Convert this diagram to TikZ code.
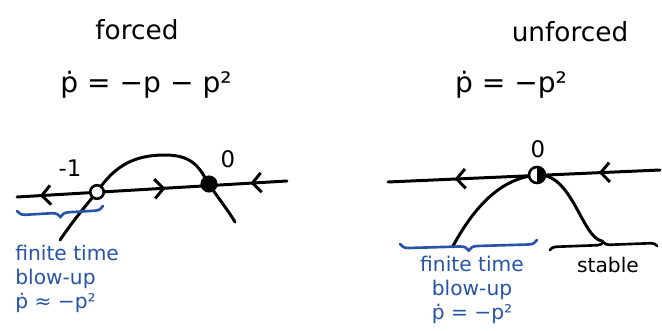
\documentclass[tikz,border=0pt]{standalone}
\usepackage{fontspec}
\setmainfont{DejaVu Sans}
\usepackage{tikz}
\usetikzlibrary{arrows.meta, positioning, decorations.markings, decorations.pathreplacing}
\definecolor{handblue}{RGB}{40,84,168}
\tikzstyle{title2} = [font=\fontsize{15}{18}\selectfont, inner sep=0pt]
\tikzstyle{eqn2} = [font=\fontsize{16}{19}\selectfont, inner sep=0pt]
\tikzstyle{note2} = [font=\fontsize{11.5}{13.5}\selectfont, inner sep=0pt]
\tikzstyle{label2} = [font=\fontsize{13}{15}\selectfont, inner sep=0pt]
\tikzstyle{line2} = [line width=1.7pt, line cap=round]
\tikzstyle{opendot} = [circle, draw, line width=1.5pt, fill=white, minimum size=0.27cm, inner sep=0pt]
\tikzstyle{fulldot} = [circle, draw, line width=1.2pt, fill=black, minimum size=0.3cm, inner sep=0pt]
\tikzstyle{halfdot} = [circle, draw, line width=1.5pt, fill=white, minimum size=0.32cm, inner sep=0pt,
  path picture={\fill[black] (path picture bounding box.north) rectangle (path picture bounding box.south east);}]
\tikzstyle{brace2} = [decorate, line width=1.5pt, line cap=round]

\begin{document}
\begin{tikzpicture}[x=0.02cm, y=-0.02cm, >={Straight Barb[length=5pt,width=11pt]}]
            \useasboundingbox (0,0) rectangle (662,331);

            % Left: forced
            \node (ftitle) [title2] at (137,30) {forced};
            \node (feq) [eqn2] at (146,85) {ṗ = −p − p²};

            \coordinate (lleft) at (17,197);
            \coordinate (lright) at (287,181);
            \coordinate (neg) at (97,192);
            \coordinate (zero) at (209,184);
            \coordinate (lstart) at (60,240);
            \coordinate (lend) at (235,222);

            \draw [line2, postaction={decorate}, decoration={markings,
                mark=at position 0.13 with {\arrow{<}},
                mark=at position 0.55 with {\arrow{>}},
                mark=at position 0.91 with {\arrow{<}}}] (lleft) -- (lright);
            \draw [line2] (lstart) .. controls (75,218) and (88,203) .. (neg)
                .. controls (115,165) and (135,155) .. (165,155)
                .. controls (195,155) and (200,170) .. (zero)
                .. controls (218,198) and (228,210) .. (lend);

            \node (negdot) [opendot] at (neg) {};
            \node (zerodot) [fulldot] at (zero) {};
            \node (neglab) [label2] at (70,168) {-1};
            \node (zerolab) [label2] at (228,159) {0};

            \draw [brace2, handblue, decoration={brace, mirror, amplitude=0.17cm}] (17,211) -- (103,206);
            \node (lnote) [note2, text=handblue, align=left, anchor=north west] at (15,245) {finite time\\blow-up\\ṗ ≈ −p²};

            % Right: unforced
            \node (utitle) [title2] at (570,32) {unforced};
            \node (ueq) [eqn2] at (511,85) {ṗ = −p²};

            \coordinate (rleft) at (388,182);
            \coordinate (rright) at (660,170);
            \coordinate (rzero) at (537,175);
            \coordinate (rstart) at (453,246);
            \coordinate (rend) at (602,241);

            \draw [line2, postaction={decorate}, decoration={markings,
                mark=at position 0.29 with {\arrow{<}},
                mark=at position 0.82 with {\arrow{<}}}] (rleft) -- (rright);
            \draw [line2] (rstart) .. controls (478,200) and (505,178) .. (rzero)
                .. controls (572,172) and (582,238) .. (rend);

            \node (rzerodot) [halfdot] at (rzero) {};
            \node (rzerolab) [label2] at (538,149) {0};

            \draw [brace2, handblue, decoration={brace, mirror, amplitude=0.17cm}] (400,244) -- (537,240);
            \draw [brace2, decoration={brace, amplitude=0.12cm}] (550,250) -- (657,246);
            \node (rnote) [note2, text=handblue, align=center, anchor=north] at (472,256) {finite time\\blow-up\\ṗ = −p²};
            \node (stable) [note2, anchor=north] at (608,257) {stable};

        \end{tikzpicture}
\end{document}
